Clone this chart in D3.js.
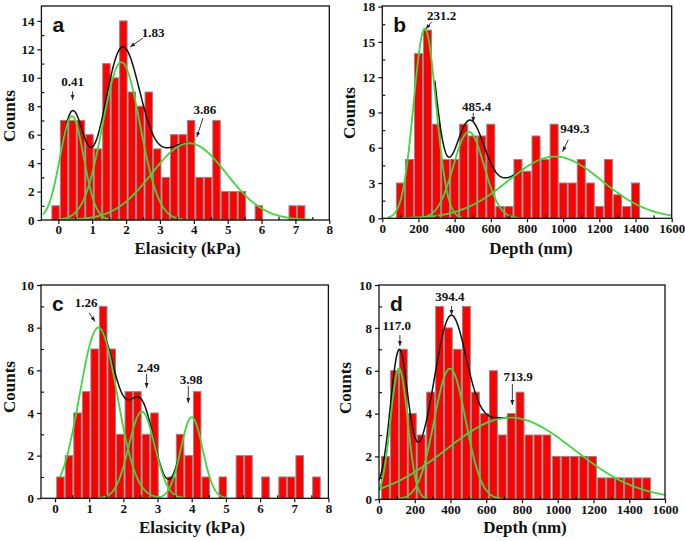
<!DOCTYPE html>
<html><head><meta charset="utf-8">
<script src="https://cdn.jsdelivr.net/npm/d3@7"></script>
<style>body{margin:0;background:#fff}svg{display:block}</style>
</head><body><svg id="chart" width="685" height="541"></svg>
<script>
// ---------- DATA ----------
// Panel a: Elasticity histogram (kPa)
const aCenters = [-0.08,0.17,0.42,0.67,0.92,1.17,1.42,1.67,1.92,2.17,2.42,2.67,2.92,3.17,3.42,3.67,3.92,4.17,4.42,4.67,4.92,5.17,5.42,5.92,6.92,7.17];
const aCounts  = [1,7,7,7,6,5,11,10,14,9,8,9,5,3,6,6,7,3,3,7,2,2,2,1,1,1];
const aPeakCenters = [0.40,1.86,3.86];
const aPeakAmps    = [7.3,11.1,5.4];
const aPeakSigmas  = [0.35,0.55,1.1];
const aPeakLabels  = ["0.41","1.83","3.86"];
const aXTicks = [0,1,2,3,4,5,6,7,8];
const aYTicks = [0,2,4,6,8,10,12,14];

// Panel b: Depth histogram (nm)
const bCenters = [100,150,200,250,300,350,400,450,500,550,600,650,700,750,800,850,900,950,1000,1050,1100,1150,1200,1250,1300,1350,1400];
const bCounts  = [3,5,14,16,8,5,5,8,7,7,8,1,1,5,4,7,5,8,3,3,5,3,1,5,2,1,3];
const bPeakCenters = [235,478,955];
const bPeakAmps    = [16.1,7.35,5.25];
const bPeakSigmas  = [62,85,260];
const bPeakLabels  = ["231.2","485.4","949.3"];
const bXTicks = [0,200,400,600,800,1000,1200,1400,1600];
const bYTicks = [0,3,6,9,12,15,18];

// Panel c: Elasticity histogram (kPa)
const cCenters = [0.16,0.41,0.66,0.91,1.16,1.41,1.66,1.91,2.16,2.41,2.66,2.91,3.41,3.66,3.91,4.16,4.41,4.91,5.41,5.66,6.16,6.66,6.91,7.16,7.65];
const cCounts  = [1,2,4,5,7,9,7,3,5,5,3,4,1,3,2,5,1,1,2,2,1,1,1,2,1];
const cPeakCenters = [1.27,2.54,4.0];
const cPeakAmps    = [8.0,4.06,3.8];
const cPeakSigmas  = [0.55,0.38,0.32];
const cPeakLabels  = ["1.26","2.49","3.98"];
const cXTicks = [0,1,2,3,4,5,6,7,8];
const cYTicks = [0,2,4,6,8,10];

// Panel d: Depth histogram (nm)
const dCenters = [36,87,136,186,236,289,339,388,438,489,539,590,640,690,740,789,839,889,939,992,1043,1093,1144,1194,1245,1296,1346,1396,1447,1497];
const dCounts  = [2,6,7,4,3,5,9,8,7,9,5,4,6,3,4,5,3,3,3,2,2,2,2,2,1,1,1,1,1,1];
const dPeakCenters = [112,397,733];
const dPeakAmps    = [6.1,6.1,3.81];
const dPeakSigmas  = [48,88,360];
const dPeakLabels  = ["117.0","394.4","713.9"];
const dXTicks = [0,200,400,600,800,1000,1200,1400,1600];
const dYTicks = [0,2,4,6,8,10];

// ---------- LAYOUT ----------
const SERIF = "'Liberation Serif','Times New Roman',serif";
const SANS = "'Liberation Sans',Arial,sans-serif";
const RED = "#ff0000", GREEN = "#3cd83c";

const panels = [
  {letter:"a", centers:aCenters, counts:aCounts, binW:0.25, pc:aPeakCenters, pa:aPeakAmps, ps:aPeakSigmas, pl:aPeakLabels,
   xTicks:aXTicks, yTicks:aYTicks, xTitle:"Elasicity (kPa)",
   xDomain:[-0.5,8], yDomain:[0,15.05], xr:[41.4,329.3], yr:[220,6],
   fitRange:[-0.45,8], sumRange:[0.1,3.85],
   annots:[{t:[0.42,9.4], a:[[0.42,9.05],[0.42,8.45]]},
           {t:[2.8,12.9], a:[[2.5,12.8],[2.12,12.17]]},
           {t:[4.33,7.42], a:[[4.27,7.17],[4.09,5.84]]}],
   titleXY:[187.5,254], countsXY:[15,116]},
  {letter:"b", centers:bCenters, counts:bCounts, binW:50, pc:bPeakCenters, pa:bPeakAmps, ps:bPeakSigmas, pl:bPeakLabels,
   xTicks:bXTicks, yTicks:bYTicks, xTitle:"Depth (nm)",
   xDomain:[0,1600], yDomain:[0,18.05], xr:[382.3,671.7], yr:[218.3,6],
   fitRange:[0,1600], sumRange:[290,760],
   annots:[{t:[328,16.9], a:[[273,16.7],[241,16.1]]},
           {t:[522,9.13], a:[[503,8.96],[503,8.19]]},
           {t:[1065,7.26], a:[[1028,6.66],[997,5.67]]}],
   titleXY:[531,254], countsXY:[355,113]},
  {letter:"c", centers:cCenters, counts:cCounts, binW:0.25, pc:cPeakCenters, pa:cPeakAmps, ps:cPeakSigmas, pl:cPeakLabels,
   xTicks:cXTicks, yTicks:cYTicks, xTitle:"Elasicity (kPa)",
   xDomain:[-0.41,8], yDomain:[0,10], xr:[41,328.4], yr:[498.3,285],
   fitRange:[0.15,8], sumRange:[1.4,3.6],
   annots:[{t:[0.91,8.98], a:[[1.0,8.7],[1.17,8.29]]},
           {t:[2.73,5.93], a:[[2.68,5.83],[2.68,5.17]]},
           {t:[3.98,5.37], a:[[3.9,5.27],[3.9,4.47]]}],
   titleXY:[192,533], countsXY:[15,387]},
  {letter:"d", centers:dCenters, counts:dCounts, binW:50, pc:dPeakCenters, pa:dPeakAmps, ps:dPeakSigmas, pl:dPeakLabels,
   xTicks:dXTicks, yTicks:dYTicks, xTitle:"Depth (nm)",
   xDomain:[0,1600], yDomain:[0,10], xr:[379,665], yr:[499.3,285],
   fitRange:[0,1600], sumRange:[0,760],
   annots:[{t:[99,7.92], a:[[117,7.67],[117,7.15]]},
           {t:[397,9.24], a:[[406,9.02],[406,8.6]]},
           {t:[779,5.51], a:[[746,5.38],[746,4.4]]}],
   titleXY:[525,533], countsXY:[351,388]}
];

const svg = d3.select("#chart");
svg.append("defs").append("marker")
  .attr("id","arr").attr("viewBox","0 0 6 6").attr("refX",6).attr("refY",3)
  .attr("markerWidth",5).attr("markerHeight",5).attr("markerUnits","userSpaceOnUse")
  .attr("orient","auto")
  .append("path").attr("d","M0,0.6 L6,3 L0,5.4 Z").attr("fill","#222");

function gauss(x, c, a, s){ return a*Math.exp(-(x-c)*(x-c)/(2*s*s)); }

panels.forEach(p => {
  const x = d3.scaleLinear().domain(p.xDomain).range(p.xr);
  const y = d3.scaleLinear().domain(p.yDomain).range(p.yr);
  const g = svg.append("g");

  // bars
  g.selectAll("rect.bar").data(p.centers.map((c,i)=>({c, n:p.counts[i]})))
    .enter().append("rect")
    .attr("x", d => x(d.c - p.binW/2) + 0.5)
    .attr("width", d => x(d.c + p.binW/2) - x(d.c - p.binW/2) - 1)
    .attr("y", d => y(d.n))
    .attr("height", d => y(0) - y(d.n))
    .attr("fill", RED).attr("stroke", "#8c8c8c").attr("stroke-width", 1);

  const line = d3.line().x(d=>x(d[0])).y(d=>y(d[1])).curve(d3.curveLinear);

  // cumulative fit (black)
  const sumPts = d3.range(0,201).map(i => {
    const xv = p.sumRange[0] + (p.sumRange[1]-p.sumRange[0])*i/200;
    let s = 0; p.pc.forEach((c,k)=>{ s += gauss(xv,c,p.pa[k],p.ps[k]); });
    return [xv, s];
  });
  g.append("path").attr("d", line(sumPts)).attr("fill","none")
    .attr("stroke","#111").attr("stroke-width",1.5);

  // individual gaussian peaks (green)
  p.pc.forEach((c,k) => {
    const lo = Math.max(p.fitRange[0], c - 3.3*p.ps[k]);
    const hi = Math.min(p.fitRange[1], c + 3.3*p.ps[k]);
    const pts = d3.range(0,201).map(i => { const xv = lo + (hi-lo)*i/200; return [xv, gauss(xv,c,p.pa[k],p.ps[k])]; });
    g.append("path").attr("d", line(pts)).attr("fill","none")
      .attr("stroke",GREEN).attr("stroke-width",1.8);
  });

  // frame
  g.append("rect").attr("x",p.xr[0]).attr("y",p.yr[1])
    .attr("width",p.xr[1]-p.xr[0]).attr("height",p.yr[0]-p.yr[1])
    .attr("fill","none").attr("stroke","#111").attr("stroke-width",1.3);

  // axes: major ticks outward with labels
  const xAxis = d3.axisBottom(x).tickValues(p.xTicks).tickSize(4).tickPadding(3).tickFormat(d3.format("d"));
  const yAxis = d3.axisLeft(y).tickValues(p.yTicks).tickSize(4).tickPadding(3).tickFormat(d3.format("d"));
  const gx = g.append("g").attr("transform",`translate(0,${p.yr[0]})`).call(xAxis);
  const gy = g.append("g").attr("transform",`translate(${p.xr[0]},0)`).call(yAxis);
  // minor ticks inward
  const xMinor = d3.pairs(p.xTicks).map(([a,b])=>(a+b)/2);
  const yMinor = d3.pairs(p.yTicks).map(([a,b])=>(a+b)/2);
  const gxm = g.append("g").attr("transform",`translate(0,${p.yr[0]})`)
    .call(d3.axisBottom(x).tickValues(xMinor).tickSize(-3).tickFormat(""));
  const gym = g.append("g").attr("transform",`translate(${p.xr[0]},0)`)
    .call(d3.axisLeft(y).tickValues(yMinor).tickSize(-3).tickFormat(""));
  [gx,gy,gxm,gym].forEach(a => {
    a.select(".domain").remove();
    a.selectAll("line").attr("stroke","#111").attr("stroke-width",1.2);
    a.selectAll("text").attr("font-family",SERIF).attr("font-weight","bold")
      .attr("font-size",13).attr("fill","#111");
  });
  gx.selectAll("text").attr("dy","0.75em").attr("y",4.5);

  // panel letter
  g.append("text").attr("x",p.xr[0]+11).attr("y",p.yr[1]+26).text(p.letter)
    .attr("font-family",SANS).attr("font-weight","bold").attr("font-size",21).attr("fill","#111");

  // annotations
  p.annots.forEach((an,k) => {
    g.append("text").attr("x",x(an.t[0])).attr("y",y(an.t[1])).attr("text-anchor","middle")
      .text(p.pl[k]).attr("font-family",SERIF).attr("font-weight","bold").attr("font-size",13).attr("fill","#111");
    g.append("line").attr("x1",x(an.a[0][0])).attr("y1",y(an.a[0][1]))
      .attr("x2",x(an.a[1][0])).attr("y2",y(an.a[1][1]))
      .attr("stroke","#222").attr("stroke-width",0.9).attr("marker-end","url(#arr)");
  });

  // axis titles
  g.append("text").attr("x",p.titleXY[0]).attr("y",p.titleXY[1]).attr("text-anchor","middle")
    .text(p.xTitle).attr("font-family",SERIF).attr("font-weight","bold").attr("font-size",17).attr("fill","#111");
  g.append("text").attr("transform",`translate(${p.countsXY[0]},${p.countsXY[1]}) rotate(-90)`)
    .attr("text-anchor","middle").text("Counts")
    .attr("font-family",SERIF).attr("font-weight","bold").attr("font-size",17).attr("fill","#111");
});
</script></body></html>
